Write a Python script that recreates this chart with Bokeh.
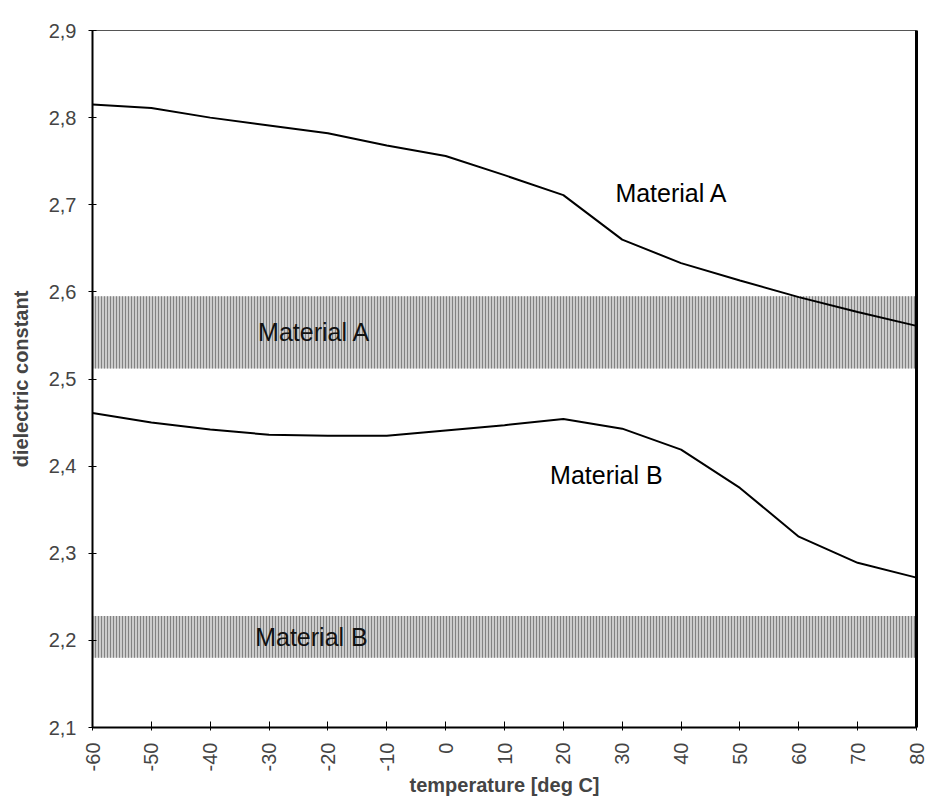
import math
from bokeh.plotting import figure
from bokeh.models import Range1d, FixedTicker, LinearAxis, ColumnDataSource
from bokeh.core.properties import value
from bokeh.embed import file_html
from bokeh.resources import INLINE

# ---- data ----
temperature = [-60, -50, -40, -30, -20, -10, 0, 10, 20, 30, 40, 50, 60, 70, 80]
material_a = [2.815, 2.811, 2.800, 2.791, 2.782, 2.768, 2.756, 2.734, 2.711,
              2.660, 2.633, 2.613, 2.594, 2.577, 2.561]
material_b = [2.461, 2.450, 2.442, 2.436, 2.435, 2.435, 2.441, 2.447, 2.454,
              2.443, 2.419, 2.375, 2.319, 2.289, 2.272]

band_names = ["Material A", "Material B"]
band_low = [2.512, 2.180]
band_high = [2.595, 2.228]

x_ticks = [-60, -50, -40, -30, -20, -10, 0, 10, 20, 30, 40, 50, 60, 70, 80]
x_tick_labels = ["-60", "-50", "-40", "-30", "-20", "-10", "0", "10", "20",
                 "30", "40", "50", "60", "70", "80"]
y_ticks = [2.1, 2.2, 2.3, 2.4, 2.5, 2.6, 2.7, 2.8, 2.9]
y_tick_labels = ["2,1", "2,2", "2,3", "2,4", "2,5", "2,6", "2,7", "2,8", "2,9"]

FONT = "Liberation Sans"

p = figure(width=927, height=799, output_backend="svg", toolbar_location=None,
           x_range=Range1d(-60, 80), y_range=Range1d(2.1, 2.9),
           min_border_left=92, min_border_right=11, min_border_top=30,
           min_border_bottom=71)
p.background_fill_color = "white"
p.border_fill_color = "white"
p.xgrid.visible = False
p.ygrid.visible = False
p.outline_line_color = "#555555"
p.outline_line_width = 1

# bands
band_src = ColumnDataSource(dict(
    left=[x_ticks[0]] * len(band_names),
    right=[x_ticks[-1]] * len(band_names),
    bottom=band_low, top=band_high, name=band_names))
p.quad(left="left", right="right", bottom="bottom", top="top", source=band_src,
       fill_color="#cccccc", line_color=None,
       hatch_pattern="vertical_line", hatch_scale=3, hatch_color="#7a7a7a",
       hatch_weight=1, hatch_alpha=0.9)

# curves
p.line(temperature, material_a, line_color="black", line_width=2)
p.line(temperature, material_b, line_color="black", line_width=2)

# labels
lab_x = [38.4, 27.3]
lab_y = [2.713, 2.390]
p.text(x=lab_x, y=lab_y, text=["Material A", "Material B"],
       text_font=value(FONT), text_font_size="25px", text_color="black",
       text_align="center", text_baseline="middle")
band_lab_x = [-22.3, -22.8]
band_lab_y = [(lo + hi) / 2 for lo, hi in zip(band_low, band_high)]
p.text(x=band_lab_x, y=band_lab_y, text=band_names,
       text_font=value(FONT), text_font_size="25px", text_color="#111111",
       text_align="center", text_baseline="middle")

# axes
xa = p.xaxis[0]
xa.ticker = FixedTicker(ticks=x_ticks)
xa.major_label_overrides = {t: s for t, s in zip(x_ticks, x_tick_labels)}
xa.major_label_orientation = math.pi / 2
xa.axis_label = "temperature [deg C]"
xa.axis_label_text_font = FONT
xa.axis_label_text_font_style = "bold"
xa.axis_label_text_font_size = "20px"
xa.axis_label_standoff = 0
xa.major_label_text_font = FONT
xa.major_label_text_font_size = "20px"
xa.major_label_standoff = 12
xa.axis_line_width = 2
xa.axis_line_color = "black"
xa.major_tick_in = 6
xa.major_tick_out = 3
xa.minor_tick_line_color = None

ya = p.yaxis[0]
ya.ticker = FixedTicker(ticks=y_ticks)
ya.major_label_overrides = {t: s for t, s in zip(y_ticks, y_tick_labels)}
ya.axis_label = "dielectric constant"
ya.axis_label_text_font = FONT
ya.axis_label_text_font_style = "bold"
ya.axis_label_text_font_size = "20px"
ya.axis_label_standoff = 14
ya.major_label_text_font = FONT
ya.major_label_text_font_size = "20px"
ya.major_label_standoff = 12
ya.axis_line_width = 2
ya.axis_line_color = "black"
ya.major_tick_in = 4
ya.major_tick_out = 4
ya.minor_tick_line_color = None

ra = LinearAxis(major_label_text_font_size="0px", major_tick_line_color=None,
                minor_tick_line_color=None, axis_line_width=3,
                axis_line_color="black", ticker=FixedTicker(ticks=[]))
p.add_layout(ra, "right")

open("out.html", "w").write(file_html(p, INLINE))
